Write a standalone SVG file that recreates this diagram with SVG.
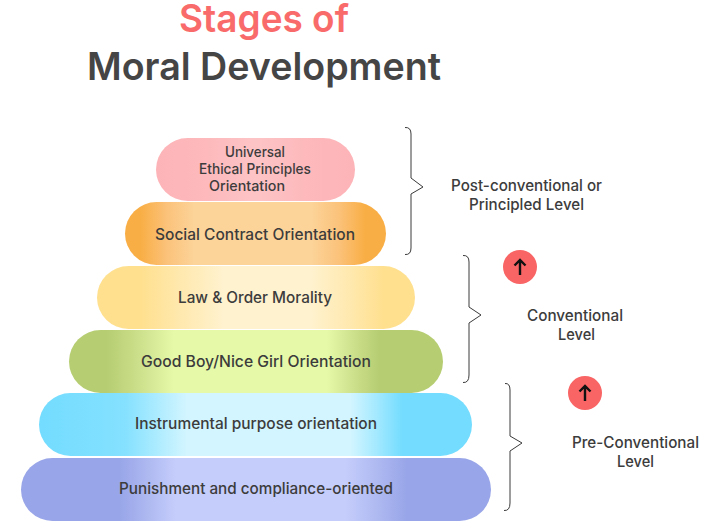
<svg xmlns="http://www.w3.org/2000/svg" width="707" height="532" viewBox="0 0 707 532">
<style>
text{font-family:"Inter","Noto Sans","Liberation Sans",sans-serif;font-weight:500;fill:#3c3c3c;font-size:15.500px;text-anchor:middle}
.t{font-size:38.500px;font-weight:600}
.s{font-size:14.500px}
.b{fill:none;stroke:#3a3a3a;stroke-width:1}
.a{fill:none;stroke:#111;stroke-width:2.400}
</style>
<defs>
<linearGradient id="g1"><stop offset="0" stop-color="#fdb4b8"/><stop offset=".25" stop-color="#fdb9bc"/><stop offset=".5" stop-color="#fdc4c6"/><stop offset=".75" stop-color="#fdb9bc"/><stop offset="1" stop-color="#fdb4b8"/></linearGradient>
<linearGradient id="g2"><stop offset="0" stop-color="#f9ae45"/><stop offset=".06" stop-color="#f9ae45"/><stop offset=".16" stop-color="#fbc27a"/><stop offset=".27" stop-color="#fcd49a"/><stop offset=".71" stop-color="#fcd49a"/><stop offset=".82" stop-color="#fbc27a"/><stop offset=".92" stop-color="#f9ae45"/><stop offset="1" stop-color="#f9ae45"/></linearGradient>
<linearGradient id="g3"><stop offset="0" stop-color="#ffe08f"/><stop offset=".14" stop-color="#ffe08f"/><stop offset=".27" stop-color="#ffe9b0"/><stop offset=".4" stop-color="#fff2cf"/><stop offset=".67" stop-color="#fff2cf"/><stop offset=".79" stop-color="#ffe9b0"/><stop offset=".9" stop-color="#ffe08f"/><stop offset="1" stop-color="#ffe08f"/></linearGradient>
<linearGradient id="g4"><stop offset="0" stop-color="#b6cd72"/><stop offset=".1" stop-color="#b6cd72"/><stop offset=".19" stop-color="#cde08c"/><stop offset=".28" stop-color="#e6f9a8"/><stop offset=".69" stop-color="#e6f9a8"/><stop offset=".76" stop-color="#cde08c"/><stop offset=".83" stop-color="#b6cd72"/><stop offset="1" stop-color="#b6cd72"/></linearGradient>
<linearGradient id="g5"><stop offset="0" stop-color="#73dcff"/><stop offset=".2" stop-color="#85e1ff"/><stop offset=".27" stop-color="#abebff"/><stop offset=".34" stop-color="#d2f5ff"/><stop offset=".72" stop-color="#d2f5ff"/><stop offset=".78" stop-color="#a3e9ff"/><stop offset=".84" stop-color="#73dcff"/><stop offset="1" stop-color="#73dcff"/></linearGradient>
<linearGradient id="g6"><stop offset="0" stop-color="#98a5e8"/><stop offset=".21" stop-color="#98a5e8"/><stop offset=".27" stop-color="#aeb9f1"/><stop offset=".33" stop-color="#c5cdfb"/><stop offset=".69" stop-color="#c5cdfb"/><stop offset=".76" stop-color="#aeb9f1"/><stop offset=".82" stop-color="#98a5e8"/><stop offset="1" stop-color="#98a5e8"/></linearGradient>
</defs>
<rect width="707" height="532" fill="#fff"/>
<g id="title">
<text class="t" x="264" y="32" textLength="170" lengthAdjust="spacingAndGlyphs" style="fill:#f96b6b">Stages of</text>
<text class="t" x="264" y="80" textLength="354" lengthAdjust="spacingAndGlyphs" style="fill:#454545">Moral Development</text>
</g>
<g id="n1"><rect x="156" y="138" width="199" height="63" rx="31.500" fill="url(#g1)"/>
<text class="s" x="255" y="157" textLength="60" lengthAdjust="spacingAndGlyphs">Universal</text><text class="s" x="255" y="174" textLength="112" lengthAdjust="spacingAndGlyphs">Ethical Principles</text><text class="s" x="247" y="191" textLength="76" lengthAdjust="spacingAndGlyphs">Orientation</text></g>
<g id="n2"><rect x="125" y="202" width="261" height="63" rx="31.500" fill="url(#g2)"/><text x="255" y="240" textLength="200" lengthAdjust="spacingAndGlyphs">Social Contract Orientation</text></g>
<g id="n3"><rect x="97" y="266" width="318" height="63" rx="31.500" fill="url(#g3)"/><text x="255" y="303" textLength="154" lengthAdjust="spacingAndGlyphs">Law &amp; Order Morality</text></g>
<g id="n4"><rect x="69" y="330" width="374" height="63" rx="31.500" fill="url(#g4)"/><text x="256" y="367" textLength="230" lengthAdjust="spacingAndGlyphs">Good Boy/Nice Girl Orientation</text></g>
<g id="n5"><rect x="39" y="393" width="433" height="63" rx="31.500" fill="url(#g5)"/><text x="256" y="429" textLength="242" lengthAdjust="spacingAndGlyphs">Instrumental purpose orientation</text></g>
<g id="n6"><rect x="21" y="458" width="470" height="63" rx="31.500" fill="url(#g6)"/><text x="256" y="494" textLength="274" lengthAdjust="spacingAndGlyphs">Punishment and compliance-oriented</text></g>
<g id="connectors">
<path class="b" d="M405 127.500Q411 127 411 134V178L423 187L411 194V248Q411 255 405 254.500"/>
<path class="b" d="M463 255.500Q469 255 469 262V307L481 315L469 323V375Q469 383 463 382.500"/>
<path class="b" d="M505 383.500Q510 383 510 390V436L522 443L510 451V503Q510 511 504 510.500"/>
</g>
<g id="l1"><text x="526.500" y="191" textLength="151" lengthAdjust="spacingAndGlyphs">Post-conventional or</text><text x="526.500" y="210" textLength="115" lengthAdjust="spacingAndGlyphs">Principled Level</text></g>
<g id="l2"><text x="575" y="321" textLength="96" lengthAdjust="spacingAndGlyphs">Conventional</text><text x="576.500" y="340" textLength="37" lengthAdjust="spacingAndGlyphs">Level</text></g>
<g id="l3"><text x="635.500" y="448" textLength="127" lengthAdjust="spacingAndGlyphs">Pre-Conventional</text><text x="635.500" y="467" textLength="37" lengthAdjust="spacingAndGlyphs">Level</text></g>
<g id="up1"><circle cx="520" cy="267" r="17" fill="#f96464"/><path class="a" d="M520 275V260M514.500 265.500L520 260L525.500 265.500"/></g>
<g id="up2"><circle cx="585" cy="393" r="17" fill="#f96464"/><path class="a" d="M585 401V386M579.500 391.500L585 386L590.500 391.500"/></g>
</svg>
